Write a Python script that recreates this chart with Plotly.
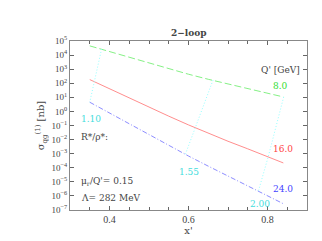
import plotly.graph_objects as go

# x' sample points
x_vals = [0.35, 0.40, 0.45, 0.50, 0.55, 0.60, 0.65, 0.70, 0.75, 0.80, 0.84]
# sigma [nb] for each Q'
sig_q8 = [4.5e4, 1.74e4, 6.9e3, 2.75e3, 1.07e3, 437, 191, 91, 46, 21, 10.7]
sig_q16 = [182, 40, 8.9, 2.1, 0.46, 0.11, 0.028, 7.6e-3, 2.2e-3, 6.3e-4, 2.2e-4]
sig_q24 = [4.5, 0.76, 0.13, 0.022, 3.6e-3, 6.8e-4, 1.3e-4, 2.6e-5, 5.2e-6, 1.05e-6, 2.8e-7]

# constant R*/rho* lines (points on Q'=8, 16, 24 curves)
r110_x = [0.380, 0.361, 0.350]
r110_y = [2.7e4, 135, 4.5]
r155_x = [0.662, 0.616, 0.592]
r155_y = [166, 0.069, 8.9e-4]
r200_x = [0.841, 0.802, 0.777]
r200_y = [10.7, 6.3e-4, 2.2e-6]

x_ticks = [0.4, 0.6, 0.8]
y_decades = list(range(-7, 6))

FONT = "Liberation Serif"
AFONT = "DejaVu Serif"
TXT = "#444444"

fig = go.Figure()
fig.add_trace(go.Scatter(x=x_vals, y=sig_q8, mode="lines",
                         line=dict(color="#77ee77", width=0.9, dash="7px,3px")))
fig.add_trace(go.Scatter(x=x_vals, y=sig_q16, mode="lines",
                         line=dict(color="#ff8080", width=0.9)))
fig.add_trace(go.Scatter(x=x_vals, y=sig_q24, mode="lines",
                         line=dict(color="#8080ff", width=0.9, dash="5px,2px,1px,2px")))
for xs, ys in [(r110_x, r110_y), (r155_x, r155_y), (r200_x, r200_y)]:
    fig.add_trace(go.Scatter(x=xs, y=ys, mode="lines",
                             line=dict(color="#88ffff", width=0.9, dash="1px,2px")))

def ann(x, y, text, color, anchor="center", size=9):
    fig.add_annotation(x=x, y=y, text=text, showarrow=False, xanchor=anchor,
                       yanchor="middle", font=dict(family=AFONT, size=size, color=color))

ann(0.352, -0.53, "1.10", "#44dddd")
ann(0.600, -4.29, "1.55", "#44dddd")
ann(0.780, -6.54, "2.00", "#44dddd")
ann(0.833, 1.81, "8.0", "#33dd33")
ann(0.838, -2.66, "16.0", "#ff4444")
ann(0.838, -5.50, "24.0", "#4444ff")
ann(0.834, 2.96, "Q' [GeV]", TXT)
ann(0.324, -1.81, "R*/ρ*:", TXT, "left")
ann(0.324, -5.00, "μ<sub>r</sub>/Q'= 0.15", TXT, "left")
ann(0.324, -6.13, "Λ= 282 MeV", TXT, "left")

fig.add_annotation(x=0.5, y=1, xref="paper", yref="paper", yanchor="bottom",
                   yshift=1, text="<b>2−loop</b>", showarrow=False,
                   font=dict(family=AFONT, size=9, color=TXT))

fig.update_layout(
    width=322, height=241,
    margin=dict(l=62, r=23, t=33, b=39),
    paper_bgcolor="white", plot_bgcolor="white",
    showlegend=False,
    font=dict(family=FONT, size=9, color=TXT),
)
fig.update_xaxes(
    range=[0.3, 0.9], tickvals=x_ticks, ticktext=[f"{v:.1f}" for v in x_ticks],
    ticks="inside", ticklen=4, tickcolor="#666", showline=True, linecolor="#888",
    mirror="allticks", showgrid=False, zeroline=False,
    minor=dict(dtick=0.05, ticks="inside", ticklen=3, tickcolor="#666", showgrid=False),
    title=dict(text="x'", font=dict(family=AFONT, size=10, color=TXT), standoff=2),
    tickfont=dict(family=FONT, size=10, color=TXT),
)
fig.update_yaxes(
    type="log", range=[-7, 5],
    tickvals=[10.0 ** d for d in y_decades],
    ticktext=[f"10<sup>{d}</sup>".replace("-", "−") for d in y_decades],
    ticks="inside", ticklen=4, tickcolor="#666", showline=True, linecolor="#888",
    mirror="allticks", showgrid=False, zeroline=False,
    minor=dict(ticks="inside", ticklen=2, tickcolor="#888", showgrid=False),
    title=dict(text="σ<sub>qg</sub><sup>(1)</sup> [nb]", font=dict(family=AFONT, size=10, color=TXT), standoff=4),
    tickfont=dict(family=FONT, size=9, color=TXT),
)

fig.write_html("out.html")
